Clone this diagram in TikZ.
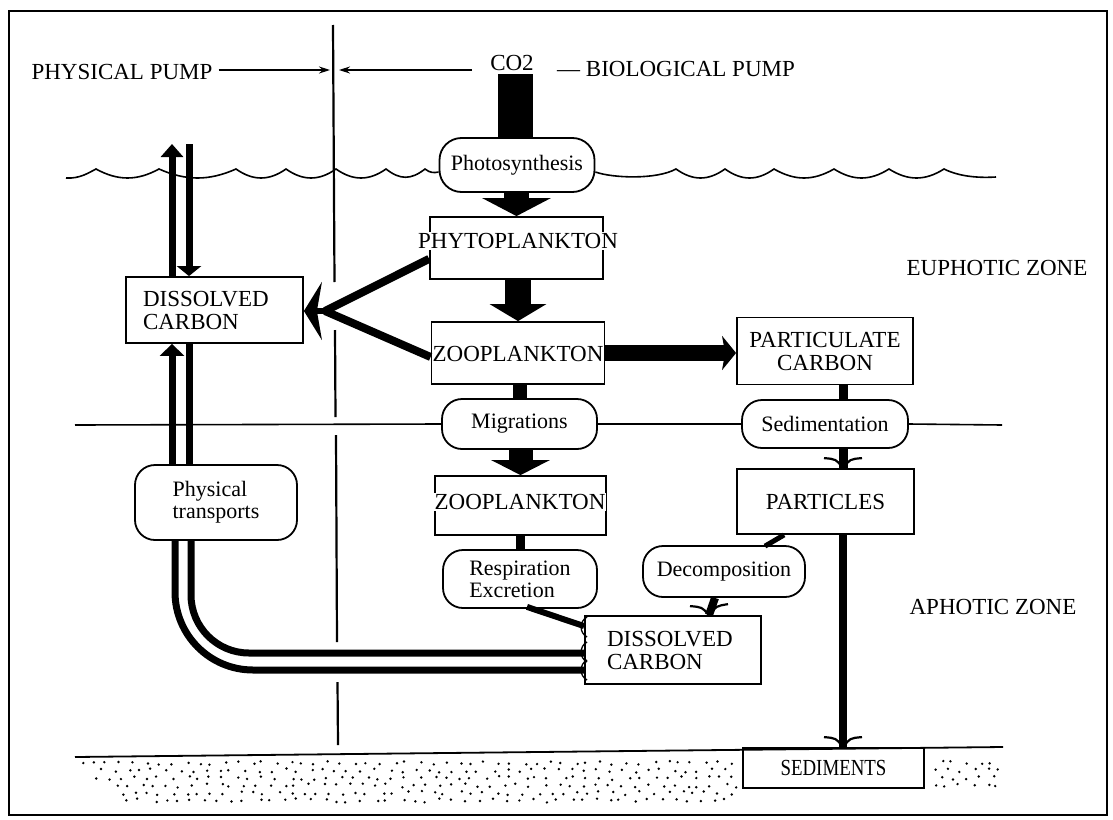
\documentclass[tikz,border=0pt]{standalone}
\usepackage{fontspec}
\setmainfont{Liberation Serif}
\usetikzlibrary{arrows.meta,calc}
\begin{document}
\begin{tikzpicture}[x=1pt,y=-1pt,
  lbl/.style={font=\fontsize{23}{23}\selectfont, inner sep=0pt},
  capsfont/.style={font=\fontsize{23}{23}\selectfont},
  box/.style={draw, line width=1.8pt, fill=white, inner sep=0pt, capsfont},
  oval/.style={draw, line width=1.8pt, fill=white, rounded corners=20pt, inner xsep=3pt, inner ysep=0pt, font=\fontsize{22}{22}\selectfont},
  thinl/.style={line width=1.6pt},
  pipe/.style={line width=7pt},
  hdr/.style={line width=1.3pt, -{Stealth[length=11pt,width=7pt]}},
  barb/.style={line width=2.2pt}
]
\useasboundingbox (0,0) rectangle (1113,819);
% frame
\draw[line width=1.6pt] (9,11) -- (1107,11) -- (1107,815) -- (9,815) -- cycle;

% header texts
\node[lbl] (pp) at (122,72) {PHYSICAL PUMP};
\node[lbl] (co2) at (512,63) {CO2};
\node[lbl, anchor=west] (bp) at (557,69) {— BIOLOGICAL PUMP};
\node[lbl] (eu) at (997,268) {EUPHOTIC ZONE};
\node[lbl] (aph) at (993,607) {APHOTIC ZONE};

% coordinates
\coordinate (dL) at (330,70);
\coordinate (dR) at (339,70);
\coordinate (la) at (472,70);
\coordinate (bart) at (515,74);
\coordinate (hl) at (75,425);
\coordinate (hr) at (1002,425);
\coordinate (po) at (172,0);
\coordinate (pi) at (189,0);
\coordinate (po2) at (175,0);
\coordinate (pi2) at (191,0);
\coordinate (ptop) at (0,144);
\coordinate (hO) at (0,670);
\coordinate (hI) at (0,653);
\coordinate (px) at (843,0);
\coordinate (conv) at (325,311);

% nodes
\node[oval, minimum width=155, minimum height=54, rounded corners=22pt] (photo) at (517,165) {Photosynthesis};
\node[box, minimum width=173, minimum height=62] (phyto) at (516.5,248) {};
\node[lbl, fill=white, inner sep=1pt] (phytot) at (518,241) {PHYTOPLANKTON};
\node[box, minimum width=173, minimum height=62] (zoo1) at (518,353) {};
\node[lbl, fill=white, inner sep=1pt] (zoo1t) at (518,354) {ZOOPLANKTON};
\node[box, minimum width=176, minimum height=67, align=center] (part) at (825,351) {PARTICULATE\\CARBON};
\node[box, minimum width=177, minimum height=66, text width=143, inner xsep=17pt, align=left] (dc1) at (214.5,310) {DISSOLVED\\CARBON};
\node[oval, minimum width=155, minimum height=50] (migr) at (519.5,424) {Migrations};
\node[oval, minimum width=166, minimum height=48] (sed) at (825,424) {Sedimentation};
\node[box, minimum width=171, minimum height=59] (zoo2) at (520.5,505.5) {};
\node[lbl, fill=white, inner sep=1pt] (zoo2t) at (520,502) {ZOOPLANKTON};
\node[box, minimum width=177, minimum height=65] (parts) at (825.5,501.5) {PARTICLES};
\node[oval, minimum width=154, minimum height=58, align=left] (resp) at (520,579) {Respiration\\Excretion};
\node[oval, minimum width=162, minimum height=51] (decomp) at (724,571.5) {Decomposition};
\node[oval, minimum width=162, minimum height=75, align=left] (phys) at (216,502.5) {Physical\\transports};
\node[box, minimum width=176, minimum height=68, text width=132, inner xsep=22pt, align=left] (dc2) at (673,650) {DISSOLVED\\CARBON};
\node[box, minimum width=181, minimum height=40] (sedi) at (833.5,768) {\scalebox{0.82}[1]{SEDIMENTS}};

% header arrows
\draw[hdr] ($(pp.east)+(6,-2)$) -- (dL);
\draw[hdr] (la) -- (dR);

% divider
\draw[line width=2.2pt] (333,25) -- (334.5,282);
\draw[line width=2.2pt] (335,330) -- (335.5,417);
\draw[line width=2.2pt] (336,435) -- (337,642);
\draw[line width=2.2pt] (337.5,682) -- (338,745);

% sea surface
\draw[thinl] (66,178) .. controls (80,179) and (90,172) .. (96,169)
  .. controls (118,181) and (137,181) .. (159,169)
  .. controls (186,181) and (209,181) .. (236,169)
  .. controls (253,181) and (269,181) .. (286,169)
  .. controls (303,181) and (319,181) .. (336,169)
  .. controls (353,181) and (369,181) .. (386,169)
  .. controls (400,180) and (411,180) .. (425,169)
  .. controls (430,173) and (434,173) .. ($(photo.west)+(0,7)$);
\draw[thinl] ($(photo.east)+(0,7)$) .. controls (612,178) and (656,180) .. (676,169)
  .. controls (693,181) and (708,181) .. (725,169)
  .. controls (742,181) and (757,181) .. (774,169)
  .. controls (795,181) and (813,181) .. (834,169)
  .. controls (853,181) and (870,181) .. (889,169)
  .. controls (908,181) and (925,181) .. (944,169)
  .. controls (960,177) and (980,178) .. (996,177);

% euphotic / aphotic boundary
\draw[thinl] (hl) -- (migr.west);
\draw[thinl] (migr.east) -- (sed.west);
\draw[thinl] (sed.east) -- (hr);

% sea floor
\draw[line width=1.8pt] (75,757) -- (1003,747);
\pgfmathsetseed{11}
\foreach \r in {0,...,5}{
  \foreach \c in {0,...,72}{
    \pgfmathsetmacro\xx{78+\c*13+rnd*8-mod(\r,2)*6}
    \pgfmathsetmacro\yy{763+\r*7.5+rand*2}
    \pgfmathtruncatemacro\ok{((\xx<737) || (\xx>931)) && (\xx<1001) && ((\yy<791) || (\xx<930)) && (\xx>78+\r*9)}
    \ifnum\ok=1 \fill (\xx,\yy) circle[radius=1.35pt]; \fi
  }
}

% CO2 bar and biological pump arrows
\draw[line width=35pt] (bart) -- (bart |- photo.north);
\draw[line width=25pt, -{Triangle[width=68pt,length=18pt]}] (phyto.north |- photo.south) -- (phyto.north);
\draw[line width=26pt, -{Triangle[width=56pt,length=17pt]}] (zoo1.north |- phyto.south) -- (zoo1.north);
\draw[line width=16pt, -{Stealth[width=34pt,length=14pt,inset=3pt]}] (zoo1.east) -- (part.west |- zoo1.east);
\draw[line width=8pt] ($(phyto.south west)+(0,-21)$) -- (conv);
\draw[line width=8pt] ($(zoo1.west)+(0,4)$) -- (conv);
\draw[line width=6pt, -{Stealth[width=58pt,length=18pt,inset=5pt]}] (conv) -- (dc1.east |- conv);

\draw[line width=14pt] (migr.north |- zoo1.south) -- (migr.north);
\draw[line width=24pt, -{Triangle[width=58pt,length=15pt]}] (zoo2.north |- migr.south) -- (zoo2.north);
\draw[line width=9pt] (resp.north |- zoo2.south) -- (resp.north);
\draw[line width=6pt] ($(resp.south)+(7,-2)$) -- ($(dc2.north west)+(0,11)$);

\draw[line width=9pt] (px |- part.south) -- (px |- sed.north);
\draw[line width=9pt] (px |- sed.south) -- (px |- parts.north);
\draw[barb] ($(px |- parts.north)+(-19,-10)$) .. controls ($(px |- parts.north)+(-7,-9)$) .. (px |- parts.north) .. controls ($(px |- parts.north)+(7,-9)$) .. ($(px |- parts.north)+(19,-10)$);
\draw[line width=8pt] (px |- parts.south) -- (px |- sedi.north);
\draw[barb] ($(px |- sedi.north)+(-19,-10)$) .. controls ($(px |- sedi.north)+(-7,-9)$) .. (px |- sedi.north) .. controls ($(px |- sedi.north)+(7,-9)$) .. ($(px |- sedi.north)+(19,-10)$);
\draw[line width=5pt] ($(parts.south west)+(48,0)$) -- ($(decomp.north)+(41,1)$);
\draw[line width=8pt] ($(decomp.south)+(-9,0)$) -- ($(dc2.north)+(36,0)$);
\draw[barb] ($(dc2.north)+(17,-9)$) .. controls ($(dc2.north)+(29,-8)$) .. ($(dc2.north)+(36,0)$) .. controls ($(dc2.north)+(43,-9)$) .. ($(dc2.north)+(55,-11)$);

% physical pump pipes
\draw[pipe, -{Triangle[width=24pt,length=12pt]}] (po |- phys.north) -- (po |- dc1.south);
\draw[pipe] (pi |- dc1.south) -- (pi |- phys.north);
\draw[pipe, -{Triangle[width=22pt,length=13pt]}] (po |- dc1.north) -- (po |- ptop);
\draw[pipe, -{Triangle[width=24pt,length=10pt]}] (pi |- ptop) -- (pi |- dc1.north);
\draw[pipe, rounded corners=78pt] (po2 |- phys.south) -- (po2 |- hO) -- (dc2.west |- hO);
\draw[pipe, rounded corners=58pt] (pi2 |- phys.south) -- (pi2 |- hI) -- (dc2.west |- hI);

% small end marks at the lower dissolved carbon box
\foreach \yy in {-23,2,20}{
  \draw[line width=1.3pt] ($(dc2.west)+(3,{\yy-10})$) .. controls ($(dc2.west)+(-5,{\yy-6})$) and ($(dc2.west)+(-5,{\yy+6})$) .. ($(dc2.west)+(3,{\yy+10})$);
}
\end{tikzpicture}
\end{document}
